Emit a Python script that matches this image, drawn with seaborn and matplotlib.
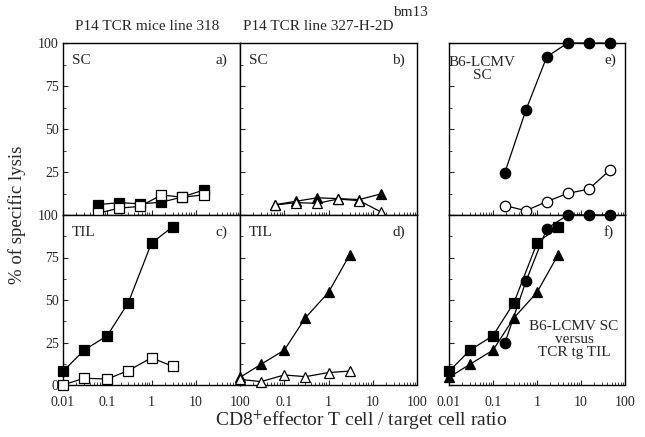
import numpy as np
import seaborn as sns
from matplotlib import pyplot as plt
from matplotlib.ticker import LogLocator, FixedLocator, NullFormatter

# Dados
x_sc = [0.062, 0.185, 0.56, 1.67, 5, 15]
a_cheio = [6, 7.2, 6.5, 7.4, 10.5, 14.5]
a_vazio = [1, 4, 5, 11.7, 10.3, 11.7]
b_cheio = [6, 8, 10, 9.5, 9, 12.2]
b_vazio = [5.8, 7.2, 6.8, 9.3, 8.3, 1.9]

x_til = [0.01, 0.03, 0.1, 0.3, 1, 3]
c_cheio = [8, 20.5, 29, 48.5, 83.5, 93]
c_vazio = [0, 4, 3.5, 8.5, 16, 11]
d_cheio = [4.5, 12.2, 20.5, 39.5, 54.5, 76.5]
d_vazio = [3.3, 2, 5.9, 4.9, 7.3, 8.2]

x_lcmv = [0.185, 0.56, 1.67, 5, 15, 45]
e_cheio = [24.5, 61, 92, 100, 100, 100]
e_vazio = [5.5, 2.5, 7.8, 12.6, 15, 26]

x_ticks = [0.01, 0.1, 1, 10, 100]
x_labels = ['0.01', '0.1', '1', '10', '100']
y_ticks = [0, 25, 50, 75, 100]

sns.set_style('ticks')
plt.rcParams['font.family'] = ['Liberation Serif', 'DejaVu Serif']
plt.rcParams['mathtext.fontset'] = 'stix'

fig = plt.figure(figsize=(6.45, 4.37), dpi=100)

W = 177 / 645
Wr = 176 / 645
H_top = 172 / 437
H_bot = 170 / 437
x0 = [63 / 645, 240 / 645, 449 / 645]
y_top = 1 - 215 / 437
y_bot = 1 - 385 / 437

axs = {}
axs['a'] = fig.add_axes([x0[0], y_top, W, H_top])
axs['b'] = fig.add_axes([x0[1], y_top, W, H_top])
axs['e'] = fig.add_axes([x0[2], y_top, Wr, H_top])
axs['c'] = fig.add_axes([x0[0], y_bot, W, H_bot])
axs['d'] = fig.add_axes([x0[1], y_bot, W, H_bot])
axs['f'] = fig.add_axes([x0[2], y_bot, Wr, H_bot])


def serie(ax, x, y, marcador, cheio):
    sns.lineplot(x=x, y=y, ax=ax, color='black', marker=marcador, markersize=7.5,
                 markerfacecolor='black' if cheio else 'white',
                 markeredgecolor='black', markeredgewidth=0.9,
                 linewidth=0.9, estimator=None, clip_on=False, zorder=5)


serie(axs['a'], x_sc, a_cheio, 's', True)
serie(axs['a'], x_sc, a_vazio, 's', False)
serie(axs['b'], x_sc, b_cheio, '^', True)
serie(axs['b'], x_sc, b_vazio, '^', False)
serie(axs['c'], x_til, c_cheio, 's', True)
serie(axs['c'], x_til, c_vazio, 's', False)
serie(axs['d'], x_til, d_cheio, '^', True)
serie(axs['d'], x_til, d_vazio, '^', False)
serie(axs['e'], x_lcmv, e_cheio, 'o', True)
serie(axs['e'], x_lcmv, e_vazio, 'o', False)
serie(axs['f'], x_lcmv, e_cheio, 'o', True)
serie(axs['f'], x_til, c_cheio, 's', True)
serie(axs['f'], x_til, d_cheio, '^', True)

for k, ax in axs.items():
    ax.set_xscale('log')
    ax.set_xlim(0.01, 100)
    ax.set_ylim(0, 100)
    ax.set_xlabel('')
    ax.set_ylabel('')
    for s in ax.spines.values():
        s.set_visible(True)
        s.set_linewidth(1.0)
        s.set_color('black')
    ax.xaxis.set_major_locator(FixedLocator(x_ticks))
    ax.xaxis.set_minor_locator(LogLocator(base=10, subs=np.arange(2, 10)))
    ax.xaxis.set_minor_formatter(NullFormatter())
    ax.yaxis.set_major_locator(FixedLocator(y_ticks))
    ax.yaxis.set_minor_locator(FixedLocator([12.5, 37.5, 62.5, 87.5]))
    ax.tick_params(which='both', direction='in', labelsize=10, top=False, right=False)
    ax.tick_params(axis='x', pad=8)
    ax.tick_params(axis='y', pad=3)
    ax.tick_params(which='major', length=3.5, width=0.8)
    ax.tick_params(which='minor', length=2, width=0.6)
    if k in ('a', 'c'):
        if k == 'a':
            ax.set_yticklabels(['', '25', '50', '75', '100'])
        else:
            ax.set_yticklabels(['0', '25', '50', '75', '100'])
    else:
        ax.set_yticklabels([])
    if k in ('c', 'f'):
        ax.set_xticklabels(x_labels)
    elif k == 'd':
        ax.set_xticklabels([''] + x_labels[1:])
    else:
        ax.set_xticklabels([])

fs = 11
axs['a'].text(0.05, 0.9, 'SC', transform=axs['a'].transAxes, fontsize=fs, va='center')
axs['a'].text(0.86, 0.9, 'a)', transform=axs['a'].transAxes, fontsize=fs, va='center')
axs['b'].text(0.05, 0.9, 'SC', transform=axs['b'].transAxes, fontsize=fs, va='center')
axs['b'].text(0.86, 0.9, 'b)', transform=axs['b'].transAxes, fontsize=fs, va='center')
axs['c'].text(0.05, 0.9, 'TIL', transform=axs['c'].transAxes, fontsize=fs, va='center')
axs['c'].text(0.86, 0.9, 'c)', transform=axs['c'].transAxes, fontsize=fs, va='center')
axs['d'].text(0.05, 0.9, 'TIL', transform=axs['d'].transAxes, fontsize=fs, va='center')
axs['d'].text(0.86, 0.9, 'd)', transform=axs['d'].transAxes, fontsize=fs, va='center')
axs['e'].text(0.19, 0.85, 'B6-LCMV\nSC', transform=axs['e'].transAxes, fontsize=fs,
              va='center', ha='center', linespacing=1.0)
axs['e'].text(0.88, 0.9, 'e)', transform=axs['e'].transAxes, fontsize=fs, va='center')
axs['f'].text(0.88, 0.9, 'f)', transform=axs['f'].transAxes, fontsize=fs, va='center')
axs['f'].text(0.71, 0.27, 'B6-LCMV SC\nversus\nTCR tg TIL', transform=axs['f'].transAxes,
              fontsize=fs, va='center', ha='center', linespacing=1.0)

# Títulos e rótulos dos eixos
fig.text(147 / 645, 1 - 27 / 437, 'P14 TCR mice line 318', fontsize=11, ha='center', va='center')
fig.text(243 / 645, 1 - 27 / 437, 'P14 TCR line 327-H-2D', fontsize=11, ha='left', va='center')
fig.text(393 / 645, 1 - 12 / 437, 'bm13', fontsize=11, ha='left', va='center')
fig.text(17 / 645, 1 - 215 / 437, '% of specific lysis', fontsize=13.5, rotation=90,
         ha='center', va='center')
fig.text(361 / 645, 1 - 420 / 437, r'CD8$^{+}$effector T cell / target cell ratio',
         fontsize=14, ha='center', va='center')

plt.savefig('out.png', dpi=100)
